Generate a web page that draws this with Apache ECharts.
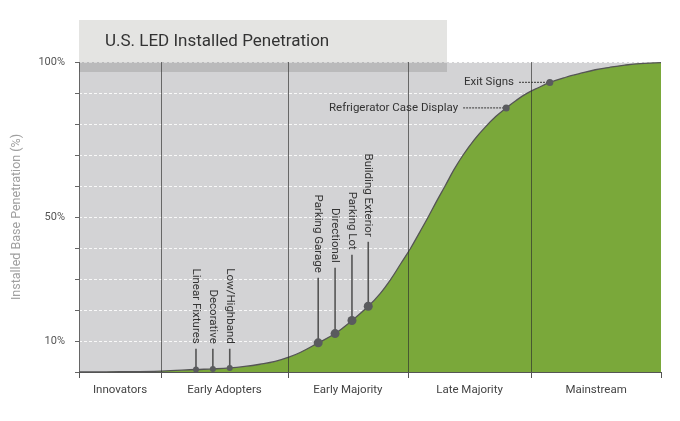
<!DOCTYPE html>
<html>
<head>
<meta charset="utf-8">
<script src="https://cdn.jsdelivr.net/npm/echarts@6/dist/echarts.min.js"></script>
<style>html,body{margin:0;padding:0;background:#fff;}#c{width:680px;height:421px;}</style>
</head>
<body>
<div id="c"></div>
<script>
// Adoption curve: x = position along adoption timeline (0-100), y = installed base penetration (%)
const curveX = [0, 7.0, 14.1, 20.1, 23.0, 25.9, 28.5, 31.1, 33.7, 35.9, 38.0, 41.1, 44.0, 46.9, 49.7, 51.7, 53.6, 55.3, 57.0, 58.6, 60.0, 61.5, 62.9, 64.4, 66.0, 67.9, 69.8, 71.6, 73.4, 75.1, 76.8, 78.9, 80.9, 83.5, 86.1, 88.7, 91.2, 93.8, 96.4, 100];
const curveY = [0, 0.1, 0.3, 0.8, 1.0, 1.3, 1.8, 2.5, 3.4, 4.7, 6.3, 9.4, 12.4, 16.6, 21.2, 25.2, 30, 35, 40, 45.3, 50, 55.3, 60, 65.2, 70, 74.9, 79.0, 82.4, 85.2, 87.6, 89.7, 91.7, 93.4, 95, 96.3, 97.5, 98.3, 99, 99.5, 99.8];

// Adoption phases
const phaseNames = ['Innovators', 'Early Adopters', 'Early Majority', 'Late Majority', 'Mainstream'];
const phaseBounds = [0, 14.1, 35.9, 56.5, 77.7, 100];

// Y tick labels shown
const yLabelValues = [10, 50, 100];

// Annotated applications
const annNames = ['Linear Fixtures', 'Decorative', 'Low/Highband', 'Parking Garage', 'Directional', 'Parking Lot', 'Building Exterior', 'Refrigerator Case Display', 'Exit Signs'];
const annX = [20.1, 23.0, 25.9, 41.1, 44.0, 46.9, 49.7, 73.4, 80.9];
const annY = [0.8, 1.0, 1.3, 9.4, 12.4, 16.6, 21.2, 85.2, 93.4];
const annDir = ['v', 'v', 'v', 'v', 'v', 'v', 'v', 'h', 'h'];
const annLeadEnd = [7.5, 7.5, 7.5, 30.4, 33.6, 37.8, 42.0, 66.0, 75.6];

const phaseMids = phaseNames.map((n, i) => (phaseBounds[i] + phaseBounds[i + 1]) / 2);
const curveData = curveX.map((x, i) => [x, curveY[i]]);
const annData = annNames.map((n, i) => ({ name: n, value: [annX[i], annY[i], annLeadEnd[i], annDir[i] === 'v' ? 0 : 1] }));

const FONT = 'Roboto';
const chart = echarts.init(document.getElementById('c'), null, { renderer: 'canvas' });
chart.setOption({
  animation: false,
  backgroundColor: '#ffffff',
  title: {
    text: 'U.S. LED Installed Penetration',
    left: 100, top: 28,
    textStyle: { fontFamily: FONT, fontSize: 17, fontWeight: 'normal', color: '#333' },
    z: 20
  },
  grid: { left: 79, right: 19, top: 62, bottom: 49, show: true, backgroundColor: '#d3d3d5', borderWidth: 0 },
  xAxis: {
    type: 'value', min: 0, max: 100,
    axisLine: { show: true, lineStyle: { color: '#555', width: 1 } },
    axisTick: { show: true, customValues: phaseBounds, length: 6, lineStyle: { color: '#555' } },
    axisLabel: {
      customValues: phaseMids, margin: 12,
      fontFamily: FONT, fontSize: 11.5, color: '#444',
      formatter: function (v) {
        let best = 0;
        phaseMids.forEach((m, i) => { if (Math.abs(m - v) < Math.abs(phaseMids[best] - v)) best = i; });
        return phaseNames[best];
      }
    },
    splitLine: { show: false }
  },
  yAxis: {
    type: 'value', min: 0, max: 100, interval: 10,
    name: 'Installed Base Penetration (%)', nameLocation: 'middle', nameGap: 56,
    nameTextStyle: { fontFamily: FONT, fontSize: 12.5, color: '#a0a0a0' },
    axisLine: { show: true, lineStyle: { color: '#666' } },
    axisTick: { show: true, length: 4, lineStyle: { color: '#666' } },
    axisLabel: {
      margin: 14, fontFamily: FONT, fontSize: 11, color: '#555',
      formatter: v => yLabelValues.indexOf(v) >= 0 ? v + '%' : ''
    },
    splitLine: { show: true, lineStyle: { color: 'rgba(255,255,255,0.85)', type: [3, 2], width: 1 } }
  },
  graphic: [
    { type: 'rect', shape: { x: 79, y: 20, width: 368, height: 42 }, style: { fill: '#e4e4e2' }, z: 5 },
    { type: 'rect', shape: { x: 79, y: 62, width: 368, height: 10 }, style: { fill: 'rgba(70,70,70,0.18)' }, z: 10 }
  ],
  series: [
    {
      type: 'line', data: curveData, smooth: 0.4, showSymbol: false, silent: true,
      lineStyle: { color: '#555', width: 1.3 },
      areaStyle: { color: '#7aa83a', opacity: 1 },
      markLine: {
        silent: true, symbol: 'none', label: { show: false },
        lineStyle: { color: 'rgba(45,45,45,0.65)', width: 1, type: 'solid' },
        data: phaseBounds.slice(1, -1).map(b => ({ xAxis: b }))
      },
      z: 2
    },
    {
      type: 'custom', data: annData, z: 4, silent: true,
      renderItem: function (params, api) {
        const x = api.value(0), y = api.value(1), lead = api.value(2), dir = api.value(3);
        const name = annNames[params.dataIndex];
        const p = api.coord([x, y]);
        const children = [];
        let r;
        if (dir === 0) {
          const e = api.coord([x, lead]);
          r = y < 3 ? 3 : 4.5;
          children.push({ type: 'line', shape: { x1: p[0], y1: p[1], x2: e[0], y2: e[1] }, style: { stroke: '#555', lineWidth: 1.6 } });
          children.push({ type: 'text', x: e[0], y: e[1] - 5, rotation: -Math.PI / 2,
            style: { text: name, align: 'right', verticalAlign: 'middle', fill: '#333', font: '11.5px ' + FONT } });
        } else {
          const e = api.coord([lead, y]);
          r = 3.5;
          children.push({ type: 'line', shape: { x1: e[0], y1: e[1], x2: p[0], y2: p[1] }, style: { stroke: '#555', lineWidth: 1.3, lineDash: [2, 1] } });
          children.push({ type: 'text', x: e[0] - 5, y: e[1],
            style: { text: name, align: 'right', verticalAlign: 'middle', fill: '#333', font: '11.5px ' + FONT } });
        }
        children.push({ type: 'circle', shape: { cx: p[0], cy: p[1], r: r }, style: { fill: '#5a5b5e' } });
        return { type: 'group', children: children };
      }
    }
  ]
});
</script>
</body>
</html>
